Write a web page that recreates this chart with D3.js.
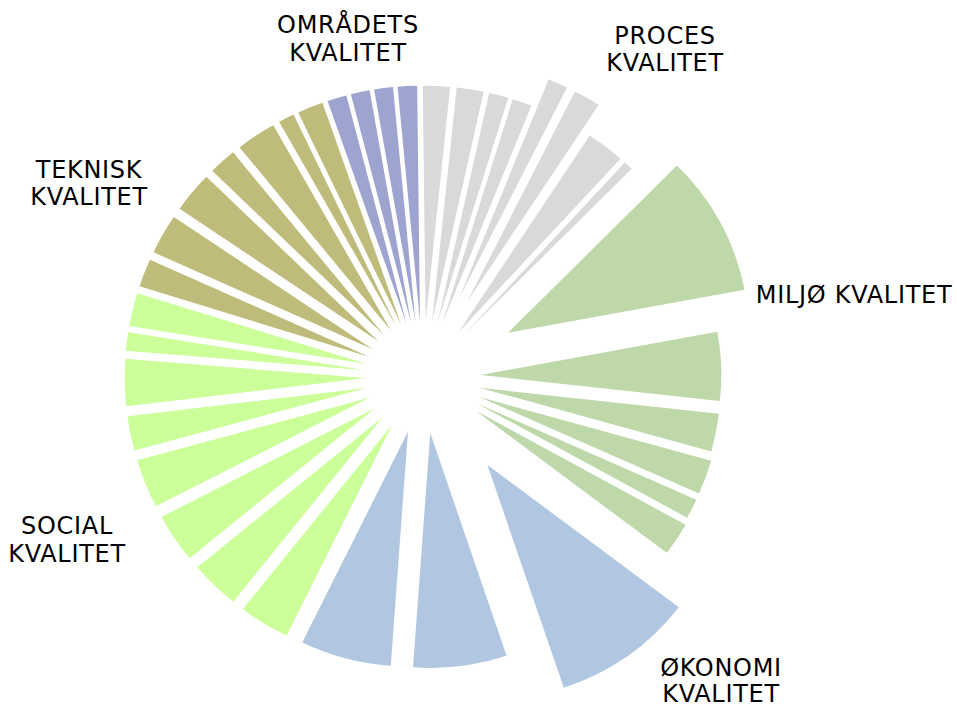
<!DOCTYPE html>
<html>
<head>
<meta charset="utf-8">
<script src="https://cdn.jsdelivr.net/npm/d3@7"></script>
<style>
  html, body { margin: 0; padding: 0; background: #fff; }
  svg { display: block; }
  text { font-family: "DejaVu Sans", Verdana, sans-serif; font-size: 24px; fill: #000; letter-spacing: 0.7px; }
</style>
</head>
<body>
<svg id="chart" width="957" height="709"></svg>
<script>
// ---- data (clockwise from 12 o'clock) ----
const categories = ["PROCES KVALITET", "MILJØ KVALITET", "ØKONOMI KVALITET", "SOCIAL KVALITET", "TEKNISK KVALITET", "OMRÅDETS KVALITET"];
const procesValues   = [6.53, 6.51, 4.69, 4.69, 4.82, 6.53, 9.26, 2.24];
const miljoValues    = [34.8, 16.96, 9.39, 8.45, 4.9, 8.2];
const okonomiValues  = [34.2, 22.6, 21.96];
const socialValues   = [12.29, 11.99, 12.11, 12.08, 8.57, 11.6, 4.6, 8.2];
const tekniskValues  = [6.9, 9.9, 10.1, 6.7, 9.7, 3.86, 6.24];
const omradetsValues = [4.67, 4.56, 4.53, 4.67];
// point explosion (% of radius), as in the source pie
const procesExplode   = [24, 24, 24, 24, 37, 37, 24, 24];
const miljoExplode    = [40, 24, 24, 25, 25, 26];
const okonomiExplode  = [46, 24, 24];
const socialExplode   = [24, 24, 24, 24, 24, 24, 24, 24];
const tekniskExplode  = [24, 24, 24, 24, 24, 24, 24];
const omradetsExplode = [24, 24, 24, 24];
const colors = ["#d9d9d9", "#bed8a9", "#b1c7e1", "#ccff99", "#bfbc7b", "#9ca4cf"];

const groups = [
  [procesValues, procesExplode],
  [miljoValues, miljoExplode],
  [okonomiValues, okonomiExplode],
  [socialValues, socialExplode],
  [tekniskValues, tekniskExplode],
  [omradetsValues, omradetsExplode]
];
const slices = [];
groups.forEach(([vals, exp], g) => vals.forEach((v, i) => slices.push({ cat: categories[g], group: g, value: v, explode: exp[i] })));

// ---- layout ----
const cx = 423, cy = 377, R = 235, sx = 1.024;
const svg = d3.select("#chart");
const pie = d3.pie().value(d => d.value).sort(null)
  .startAngle(-0.67 * Math.PI / 180).endAngle((360 - 0.67) * Math.PI / 180);
const arc = d3.arc().innerRadius(0).outerRadius(R);

const g = svg.append("g").attr("transform", `translate(${cx},${cy}) scale(${sx},1)`);
g.selectAll("path").data(pie(slices)).join("path")
  .attr("d", arc)
  .attr("fill", d => colors[d.data.group])
  .attr("transform", d => {
    const a = (d.startAngle + d.endAngle) / 2;
    const off = R * d.data.explode / 100;
    return `translate(${off * Math.sin(a)},${-off * Math.cos(a)})`;
  });

// ---- labels ----
const labels = [
  { lines: ["OMRÅDETS", "KVALITET"], x: 348, y: [33, 61] },
  { lines: ["PROCES", "KVALITET"], x: 665, y: [44, 71] },
  { lines: ["MILJØ KVALITET"], x: 854, y: [303] },
  { lines: ["ØKONOMI", "KVALITET"], x: 721, y: [676, 702] },
  { lines: ["SOCIAL", "KVALITET"], x: 67, y: [534, 562] },
  { lines: ["TEKNISK", "KVALITET"], x: 89, y: [178, 205] }
];
labels.forEach(l => {
  l.lines.forEach((t, i) => {
    svg.append("text").attr("x", l.x).attr("y", l.y[i]).attr("text-anchor", "middle").text(t);
  });
});
</script>
</body>
</html>
